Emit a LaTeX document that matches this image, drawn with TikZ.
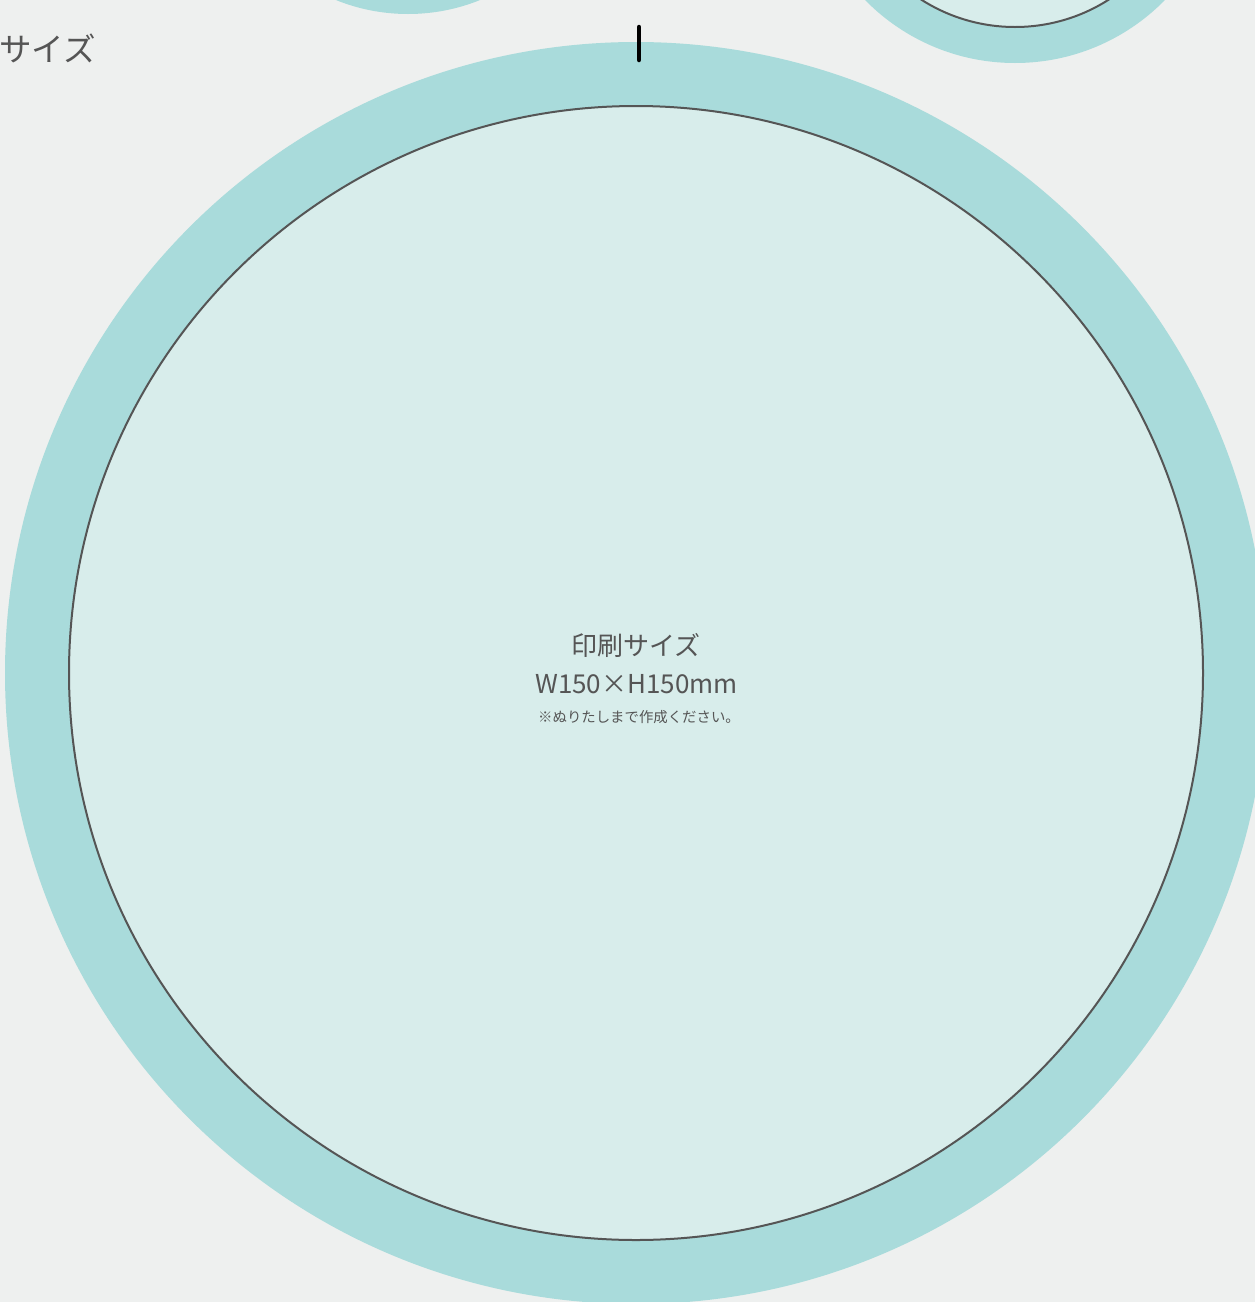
\documentclass[tikz,border=0pt]{standalone}
\usepackage{fontspec}
\setmainfont{Noto Sans CJK JP}
\newfontfamily\jpfont{Noto Sans CJK JP}
\definecolor{bg}{HTML}{EEF0EF}
\definecolor{bleed}{HTML}{A9DBDB}
\definecolor{paper}{HTML}{D8EDEB}
\definecolor{ink}{HTML}{555555}
\tikzset{
  bleedring/.style={fill=bleed, draw=none},
  trimline/.style={fill=paper, draw=ink, line width=2pt},
  label/.style={text=ink, font=\jpfont, inner sep=0pt},
}
\begin{document}
\begin{tikzpicture}[x=1pt,y=-1pt]
\useasboundingbox (0,0) rectangle (1255,1302);
\clip (0,0) rectangle (1255,1302);
\fill[bg] (0,0) rectangle (1255,1302);
% top-left partial circle
\fill[bleedring] (408,-178) circle[radius=192pt];
% top-right partial circle
\fill[bleedring] (1015,-147) circle[radius=210pt];
\filldraw[trimline] (1015,-147) circle[radius=174pt];
% main circle
\fill[bleedring] (636,673) circle[radius=631pt];
\filldraw[trimline] (636,673) circle[radius=567pt];
% top mark
\coordinate (tickA) at (639,27);
\coordinate (tickB) at (639,60);
\draw[black, line width=4.5pt, line cap=round] (tickA) -- (tickB);
% texts
\node[label, font=\jpfont\fontsize{32.5}{38}\selectfont, anchor=west] (side) at (-1,48) {サイズ};
\node[label, font=\jpfont\fontsize{26}{31}\selectfont] (t1) at (636,645) {印刷サイズ};
\node[label, font=\jpfont\fontsize{26}{31}\selectfont] (t2) at (636.5,684) {W150×H150mm};
\node[label, font=\jpfont\fontsize{14.4}{17}\selectfont] (t3) at (639,717) {※ぬりたしまで作成ください。};
\end{tikzpicture}
\end{document}
